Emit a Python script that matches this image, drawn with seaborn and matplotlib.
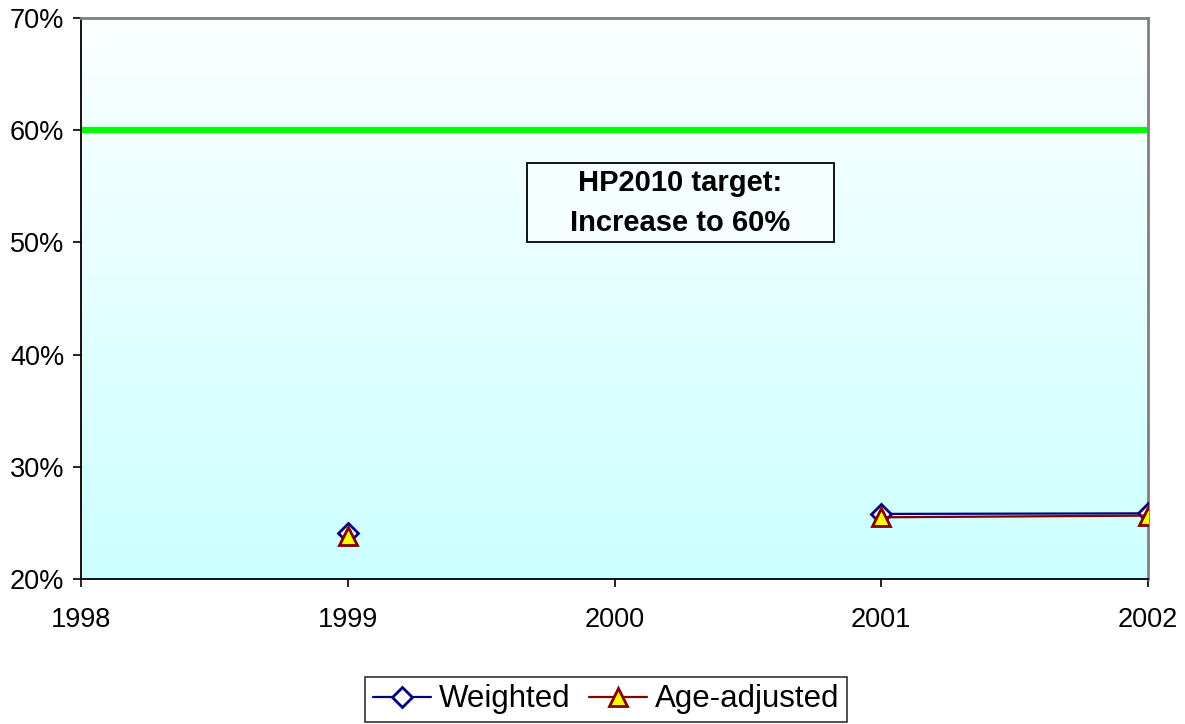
import numpy as np
import pandas as pd
import matplotlib
matplotlib.use("Agg")
import matplotlib.pyplot as plt
import seaborn as sns
from matplotlib.colors import LinearSegmentedColormap
from matplotlib.lines import Line2D
from matplotlib.patches import Rectangle

years = [1999, 2001, 2002]
segment = [0, 1, 1]  # 2000 has no data: line is broken there
weighted = [24.1, 25.8, 25.85]
age_adjusted = [23.8, 25.5, 25.65]
target = 60
xticks = [1998, 1999, 2000, 2001, 2002]
yticks = [20, 30, 40, 50, 60, 70]

sns.set_theme(style="white")
plt.rcParams['font.family'] = ['Liberation Sans', 'DejaVu Sans']
plt.rcParams['text.color'] = 'black'

fig = plt.figure(figsize=(11.85, 7.24), dpi=100)
ax = fig.add_axes([81/1185, 1 - 579/724, (1148-81)/1185, (579-18)/724])

# gradient background: light cyan at bottom, white at top
cmap = LinearSegmentedColormap.from_list("bg", ["#CCFFFF", "#FCFFFF"])
grad = np.linspace(0, 1, 256).reshape(-1, 1)
ax.imshow(grad, extent=[1998, 2002, 20, 70], origin="lower", aspect="auto", cmap=cmap, zorder=0)

ax.axhline(target, color="#00FF00", lw=4.5, zorder=2, solid_capstyle="round")

df = pd.DataFrame({"Year": years, "seg": segment, "Weighted": weighted, "Age-adjusted": age_adjusted})

wcol, acol = "#000080", "#800000"
wkw = dict(marker="D", markersize=10, markerfacecolor="white", markeredgecolor=wcol, markeredgewidth=2)
akw = dict(marker="^", markersize=13, markerfacecolor="#FFFF00", markeredgecolor=acol, markeredgewidth=2)

sns.lineplot(data=df, x="Year", y="Weighted", units="seg", estimator=None, ax=ax,
             color=wcol, lw=1.6, zorder=3, legend=False, **wkw)
sns.lineplot(data=df, x="Year", y="Age-adjusted", units="seg", estimator=None, ax=ax,
             color=acol, lw=1.6, zorder=4, legend=False, **akw)

ax.set_xlim(1998, 2002)
ax.set_ylim(20, 70)
ax.set_xticks(xticks)
ax.set_xticklabels([str(x) for x in xticks])
ax.set_yticks(yticks)
ax.set_yticklabels([f"{y}%" for y in yticks])
ax.set_xlabel("")
ax.set_ylabel("")
ax.tick_params(axis="both", labelsize=19.5, length=6, width=1.2, direction="out",
               colors="black", bottom=True, left=True)
ax.tick_params(axis="x", pad=14)
ax.tick_params(axis="y", pad=6)

for s in ["left", "bottom"]:
    ax.spines[s].set_color("black")
    ax.spines[s].set_linewidth(1.3)
for s in ["top", "right"]:
    ax.spines[s].set_color("#808080")
    ax.spines[s].set_linewidth(2)

# annotation box
ax.add_patch(Rectangle((1999.672, 50.04), 2000.823 - 1999.672, 57.08 - 50.04,
                       facecolor="#F5FFFF", edgecolor="black", lw=1.3, zorder=5))
ax.text(2000.245, 53.5, "HP2010 target:\nIncrease to 60%", ha="center", va="center",
        fontsize=21, fontweight="bold", linespacing=1.55, zorder=6)

handles = [Line2D([], [], color=wcol, lw=1.6, **wkw), Line2D([], [], color=acol, lw=1.6, **akw)]
leg = fig.legend(handles, ["Weighted", "Age-adjusted"], loc="center",
                 bbox_to_anchor=(606/1185, 1 - 699.5/724), ncol=2, fontsize=22.5, frameon=True,
                 fancybox=False, handlelength=1.85, columnspacing=0.6, handletextpad=0.25,
                 borderpad=0.25, borderaxespad=0)
leg.get_frame().set_edgecolor("black")
leg.get_frame().set_linewidth(1.2)

fig.savefig("out.png", dpi=100)
